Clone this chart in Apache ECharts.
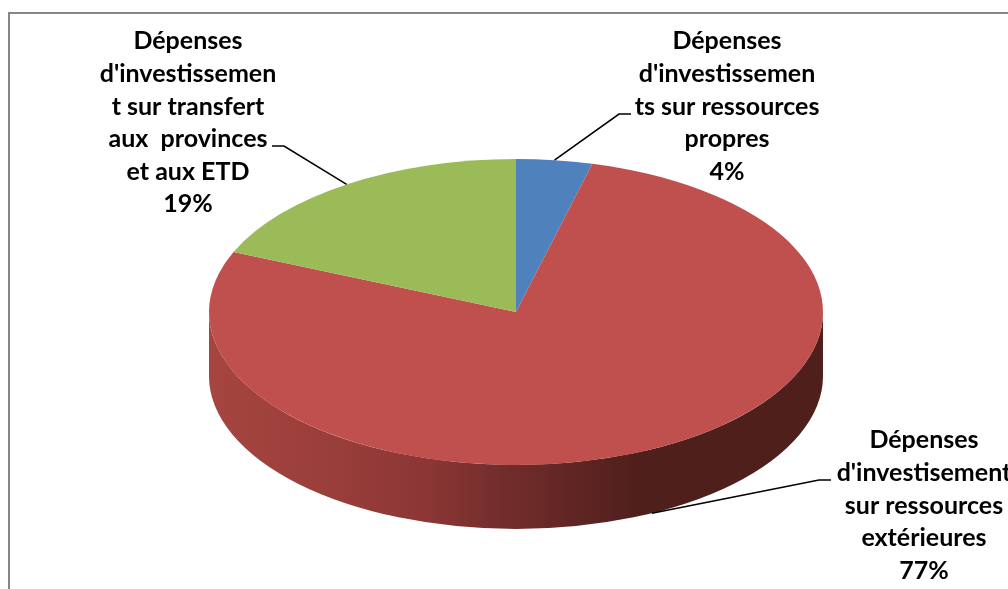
<!DOCTYPE html>
<html>
<head>
<meta charset="utf-8">
<style>
    html, body { margin: 0; padding: 0; background: #fff; }
    #pie3d { width: 1008px; height: 589px; }
</style>
<script src="https://cdn.jsdelivr.net/npm/echarts@6/dist/echarts.min.js"></script>
</head>
<body>
<div id="pie3d"></div>
<script>
// data
const categories = [
    "Dépenses\nd'investissemen\nts sur ressources\npropres",
    "Dépenses\nd'investisement\nsur ressources\nextérieures",
    "Dépenses\nd'investissemen\nt sur transfert\naux  provinces\net aux ETD"
];
const values = [4.0, 77.4, 18.6];
const colors = ['#4F81BD', '#C0504D', '#9BBB59'];

// ellipse of the top face + height of the wall
const cx = 516, cy = 312, rx = 307, ry = 153, depth = 64;

// label centre / first line y, elbow of the leader line, where the line starts
const labelLayout = [
    { x: 727, y: 41, elbow: [619, 114], start: [631, 114] },
    { x: 924, y: 440, elbow: [819, 480], start: [831, 480] },
    { x: 188, y: 41, elbow: [284, 146], start: [272, 146] }
];

const total = values.reduce((a, b) => a + b, 0);

function pt(deg, dy) {
    const a = deg * Math.PI / 180;
    return [cx + rx * Math.sin(a), cy - ry * Math.cos(a) + (dy || 0)];
}

function wallPath(a0, a1) {
    const p0 = pt(a0), p1 = pt(a1), q0 = pt(a0, depth), q1 = pt(a1, depth);
    const large = a1 - a0 > 180 ? 1 : 0;
    return `M${p0[0]} ${p0[1]}L${q0[0]} ${q0[1]}A${rx} ${ry} 0 ${large} 1 ${q1[0]} ${q1[1]}`
        + `L${p1[0]} ${p1[1]}A${rx} ${ry} 0 ${large} 0 ${p0[0]} ${p0[1]}Z`;
}

function slicePath(a0, a1) {
    const p0 = pt(a0), p1 = pt(a1);
    const large = a1 - a0 > 180 ? 1 : 0;
    return `M${cx} ${cy}L${p0[0]} ${p0[1]}A${rx} ${ry} 0 ${large} 1 ${p1[0]} ${p1[1]}Z`;
}

function renderSlice(params, api) {
    const i = params.dataIndex;
    const before = values.slice(0, i).reduce((a, b) => a + b, 0);
    const a0 = before / total * 360;
    const a1 = (before + api.value(1)) / total * 360;
    const mid = (a0 + a1) / 2;
    const children = [];

    // only the front half of the wall can be seen
    const w0 = Math.max(a0, 90), w1 = Math.min(a1, 270);
    if (w1 > w0) {
        children.push({
            type: 'path',
            shape: { pathData: wallPath(w0, w1) },
            style: {
                fill: {
                    type: 'linear', global: true,
                    x: cx - rx, y: 0, x2: cx + rx, y2: 0,
                    colorStops: [
                        { offset: 0, color: '#A5453F' },
                        { offset: 0.2, color: '#9A3E3A' },
                        { offset: 0.36, color: '#8A3635' },
                        { offset: 0.48, color: '#722D2B' },
                        { offset: 0.7, color: '#4F1F1C' },
                        { offset: 1, color: '#4F1F1C' }
                    ]
                }
            }
        });
    }
    children.push({
        type: 'path',
        shape: { pathData: slicePath(a0, a1) },
        style: { fill: colors[i] }
    });

    const lay = labelLayout[i];
    const front = mid > 90 && mid < 270;
    children.push({
        type: 'polyline',
        z2: 5,
        shape: { points: [lay.start, lay.elbow, pt(mid, front ? depth : 0)] },
        style: { stroke: '#000', lineWidth: 1.6, fill: null }
    });
    children.push({
        type: 'text',
        z2: 6,
        x: lay.x,
        y: lay.y - 16,
        style: {
            text: categories[i] + '\n' + Math.round(api.value(1)) + '%',
            fontFamily: 'Lato',
            fontWeight: 'bold',
            fontSize: 25,
            lineHeight: 32.6,
            fill: '#000',
            align: 'center',
            verticalAlign: 'top'
        }
    });
    return { type: 'group', children };
}

const myChart = echarts.init(document.getElementById('pie3d'));

const option = {
    animation: false,
    backgroundColor: '#fff',
    graphic: [{
        type: 'rect',
        silent: true,
        shape: { x: 9, y: 13, width: 1200, height: 800 },
        style: { fill: null, stroke: '#868686', lineWidth: 2 }
    }],
    series: [{
        type: 'custom',
        coordinateSystem: 'none',
        renderItem: renderSlice,
        data: values.map((v, i) => [i, v])
    }]
};

myChart.setOption(option);
</script>
</body>
</html>
